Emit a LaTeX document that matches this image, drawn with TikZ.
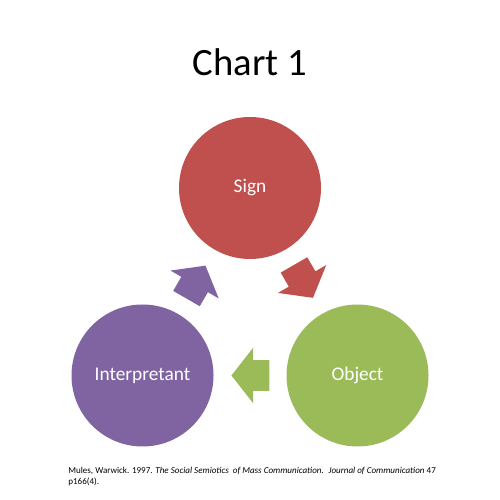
\documentclass[tikz,border=0pt]{standalone}
\usepackage{fontspec}
\setmainfont{Carlito}
\usepackage{xcolor}
\usepackage{tikz}
\usetikzlibrary{shapes.arrows,positioning,calc}
\definecolor{SemRed}{HTML}{C0504D}
\definecolor{SemGreen}{HTML}{9BBB59}
\definecolor{SemPurple}{HTML}{8064A2}

\begin{document}
\begin{tikzpicture}[
  stage/.style={circle,minimum size=2.84cm,inner sep=0pt,text=white,font=\fontsize{11}{13}\selectfont},
  blockarrow/.style={single arrow,anchor=tip,minimum height=0.76cm,minimum width=0.94cm,inner xsep=0pt,inner ysep=0.3cm,single arrow tip angle=104,draw=none}]
  \useasboundingbox[fill=white] (0,0) rectangle (10,10);
  \node[anchor=base,font=\fontsize{22}{26}\selectfont] (title) at (5,8.48) {Chart 1};
  \node[stage,fill=SemRed] (sign) at (5,6.24) {Sign};
  \node[stage,fill=SemGreen] (object) at (7.15,2.49) {Object};
  \node[stage,fill=SemPurple] (interp) at (2.85,2.49) {Interpretant};
  % cycle arrows between the circles, tip placed half a length past the midpoint
  \node[blockarrow,fill=SemRed,rotate=-60] (signarrow) at ($(sign)!0.5!(object)!0.38cm!(object)$) {};
  \node[blockarrow,fill=SemGreen,rotate=180] (objectarrow) at ($(object)!0.5!(interp)!0.38cm!(interp)$) {};
  \node[blockarrow,fill=SemPurple,rotate=60] (interparrow) at ($(interp)!0.5!(sign)!0.38cm!(sign)$) {};
  \node[anchor=base west,align=left,inner sep=0pt,font=\fontsize{5.15}{6.8}\selectfont] (source) at (1.36,0.30)
    {Mules, Warwick. 1997. \textit{The Social Semiotics~ of Mass Communication.~ Journal of Communication} 47\\p166(4).};
\end{tikzpicture}
\end{document}
